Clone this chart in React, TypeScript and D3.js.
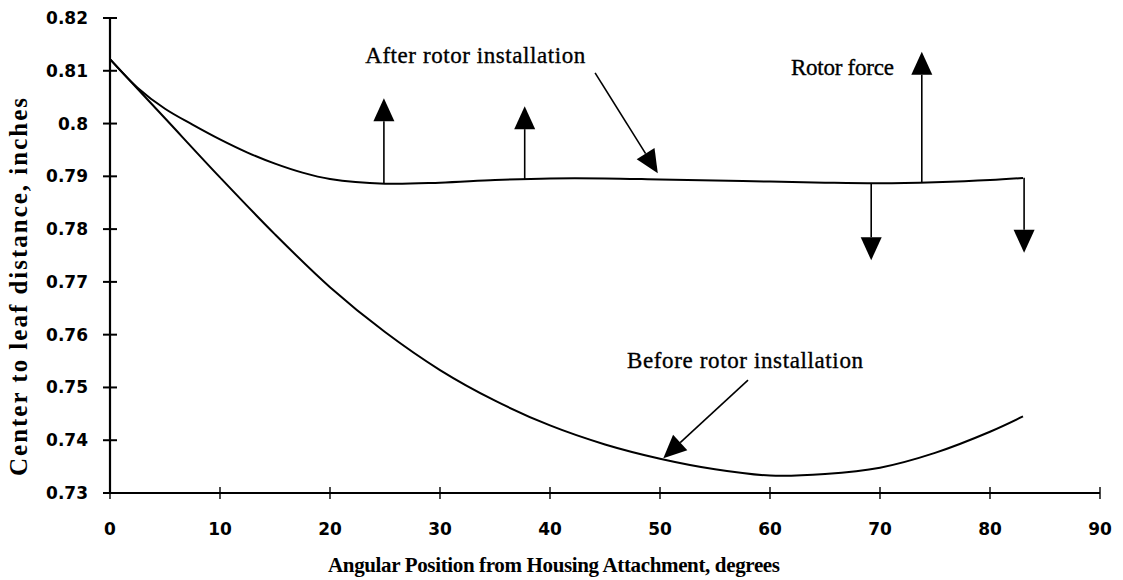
import React from "react";
import * as d3 from "d3";

const W = 1123;
const H = 580;

const xTicks = [0, 10, 20, 30, 40, 50, 60, 70, 80, 90];
const yTicks = [0.73, 0.74, 0.75, 0.76, 0.77, 0.78, 0.79, 0.8, 0.81, 0.82];
const yTickLabels = ["0.73", "0.74", "0.75", "0.76", "0.77", "0.78", "0.79", "0.8", "0.81", "0.82"];

const afterAngle = [0, 2.5, 5, 7.5, 10, 12.5, 15, 17.5, 20, 25, 30, 35, 40, 45, 50, 55, 60, 65, 70, 75, 80, 83];
const afterValue = [0.8122, 0.8068, 0.8028, 0.7998, 0.797, 0.7945, 0.7924, 0.7907, 0.7895, 0.7886, 0.7888, 0.7893, 0.7896, 0.7896, 0.7894, 0.7892, 0.789, 0.7888, 0.7887, 0.7889, 0.7893, 0.7897];

const beforeAngle = [0, 5, 10, 15, 20, 25, 30, 35, 40, 45, 50, 55, 60, 65, 70, 75, 80, 83];
const beforeValue = [0.8122, 0.801, 0.7898, 0.779, 0.769, 0.7605, 0.7533, 0.7475, 0.7428, 0.7392, 0.7365, 0.7345, 0.7333, 0.7336, 0.7348, 0.7376, 0.7416, 0.7445];

// Rotor force arrows: angle, tip value (base sits on the "after" curve)
const forceAngle = [24.9, 37.7, 73.8, 69.2, 83.1];
const forceTip = [0.8048, 0.8033, 0.8136, 0.7741, 0.7755];

// Labels
const labelText = ["After rotor installation", "Rotor force", "Before rotor installation"];
const labelAngle = [23.2, 61.9, 47.0];
const labelValue = [0.8115, 0.8092, 0.7537];
const labelLength = [220, 103, 236];

// Pointer arrows: from (angle,value) to tip (angle,value)
const pointerFromAngle = [44.1, 58.0];
const pointerFromValue = [0.8096, 0.7514];
const pointerToAngle = [49.8, 50.3];
const pointerToValue = [0.7906, 0.7366];

export default function App() {
  const x = d3.scaleLinear().domain([0, 90]).range([110, 1100]);
  const y = d3.scaleLinear().domain([0.73, 0.82]).range([493, 18]);

  const line = d3
    .line<[number, number]>()
    .x((d) => x(d[0]))
    .y((d) => y(d[1]))
    .curve(d3.curveCatmullRom.alpha(0.5));

  const afterPts: [number, number][] = afterAngle.map((a, i) => [a, afterValue[i]]);
  const beforePts: [number, number][] = beforeAngle.map((a, i) => [a, beforeValue[i]]);

  const interp = d3.scaleLinear().domain(afterAngle).range(afterValue);

  const headLen = 23;
  const headHalf = 10.5;

  const forceArrows = forceAngle.map((a, i) => {
    const px = x(a);
    const base = y(interp(a));
    const tip = y(forceTip[i]);
    const dir = tip < base ? -1 : 1;
    const hb = tip - dir * headLen;
    return (
      <g key={"f" + i}>
        <line x1={px} y1={base} x2={px} y2={hb} stroke="#000" strokeWidth={1.6} />
        <path d={`M${px},${tip}L${px - headHalf},${hb}L${px + headHalf},${hb}Z`} fill="#000" />
      </g>
    );
  });

  const pointers = pointerFromAngle.map((a, i) => {
    const x1 = x(a);
    const y1 = y(pointerFromValue[i]);
    const x2 = x(pointerToAngle[i]);
    const y2 = y(pointerToValue[i]);
    const dx = x2 - x1;
    const dy = y2 - y1;
    const len = Math.sqrt(dx * dx + dy * dy);
    const ux = dx / len;
    const uy = dy / len;
    const bx = x2 - ux * headLen;
    const by = y2 - uy * headLen;
    const nx = -uy * headHalf;
    const ny = ux * headHalf;
    return (
      <g key={"p" + i}>
        <line x1={x1} y1={y1} x2={bx} y2={by} stroke="#000" strokeWidth={1.6} />
        <path d={`M${x2},${y2}L${bx + nx},${by + ny}L${bx - nx},${by - ny}Z`} fill="#000" />
      </g>
    );
  });

  const tickFont = "'DejaVu Sans', sans-serif";
  const serif = "'Liberation Serif', 'Times New Roman', serif";

  return (
    <svg
      width={W}
      height={H}
      style={{ position: "absolute", left: 0, top: 0, background: "#fff" }}
    >
      <rect x={0} y={0} width={W} height={H} fill="#fff" />
      {/* axes */}
      <line x1={x(0)} y1={y(0.82)} x2={x(0)} y2={y(0.73)} stroke="#000" strokeWidth={2.2} />
      <line x1={x(0) - 6} y1={y(0.73)} x2={x(90)} y2={y(0.73)} stroke="#000" strokeWidth={2.2} />
      {yTicks.map((t, i) => (
        <g key={"yt" + i}>
          <line x1={x(0) - 7} x2={x(0) + 7} y1={y(t)} y2={y(t)} stroke="#000" strokeWidth={2} />
          <text
            x={88}
            y={y(t)}
            textAnchor="end"
            dominantBaseline="central"
            fontFamily={tickFont}
            fontWeight="bold"
            fontSize={17}
          >
            {yTickLabels[i]}
          </text>
        </g>
      ))}
      {xTicks.map((t, i) => (
        <g key={"xt" + i}>
          <line x1={x(t)} x2={x(t)} y1={y(0.73) - 6} y2={y(0.73) + 6} stroke="#000" strokeWidth={1.4} />
          <text
            x={x(t)}
            y={529}
            textAnchor="middle"
            dominantBaseline="central"
            fontFamily={tickFont}
            fontWeight="bold"
            fontSize={17}
          >
            {t}
          </text>
        </g>
      ))}
      {/* axis titles */}
      <text
        x={554}
        y={572}
        textAnchor="middle"
        fontFamily={serif}
        fontWeight="bold"
        fontSize={21}
        textLength={452}
        lengthAdjust="spacing"
      >
        Angular Position from Housing Attachment, degrees
      </text>
      <text
        transform={`translate(27,287) rotate(-90)`}
        textAnchor="middle"
        fontFamily={serif}
        fontWeight="bold"
        fontSize={25}
        textLength={378}
        lengthAdjust="spacing"
      >
        Center to leaf distance, inches
      </text>
      {/* curves */}
      <path d={line(beforePts) || ""} fill="none" stroke="#000" strokeWidth={2} />
      <path d={line(afterPts) || ""} fill="none" stroke="#000" strokeWidth={2} />
      {forceArrows}
      {pointers}
      {labelText.map((t, i) => (
        <text
          key={"l" + i}
          x={x(labelAngle[i])}
          y={y(labelValue[i])}
          fontFamily={serif}
          fontSize={23}
          stroke="#000"
          strokeWidth={0.35}
          textLength={labelLength[i]}
          lengthAdjust="spacing"
        >
          {t}
        </text>
      ))}
    </svg>
  );
}
